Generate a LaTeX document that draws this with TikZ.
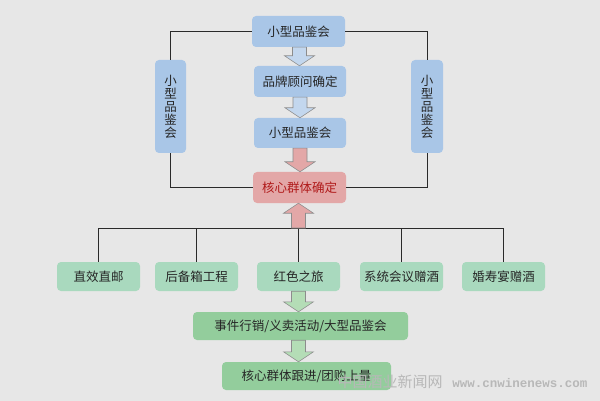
\documentclass[tikz,border=0pt]{standalone}
\usepackage{fontspec}
\setmainfont{Noto Sans CJK SC}
\newfontfamily\wmfont{Liberation Mono}
\usetikzlibrary{calc}
\definecolor{bg}{HTML}{E7E7E7}
\definecolor{bluebox}{HTML}{A9C6E7}
\definecolor{bluearr}{HTML}{C3D7EE}
\definecolor{redbox}{HTML}{E3A7A7}
\definecolor{redtext}{HTML}{B01A1A}
\definecolor{greenbox}{HTML}{A9D9BE}
\definecolor{greenbox2}{HTML}{93CD9C}
\definecolor{greenarr}{HTML}{B4DDB6}
\definecolor{arrline}{HTML}{8C8C8C}
\definecolor{frameline}{HTML}{2A2A2A}
\definecolor{wmcolor}{HTML}{B8B8B8}
\tikzset{
  box/.style={rounded corners=4pt, inner sep=0pt, font=\fontsize{12.5}{13}\selectfont, text=black!85},
  bluenode/.style={box, fill=bluebox},
  rednode/.style={box, fill=redbox, text=redtext},
  greennode/.style={box, fill=greenbox},
  greennode2/.style={box, fill=greenbox2},
  conn/.style={draw=frameline, line width=0.8pt},
  watermark/.style={inner sep=0pt, text=wmcolor},
  blockarrow/.style={draw=arrline, line width=0.6pt, to path={
    let \p1=(\tikztostart), \p2=(\tikztotarget),
        \n1={10pt*sign(\y1-\y2)} in
    (\x1-7pt,\y1) -- (\x1+7pt,\y1) -- (\x1+7pt,\y2+\n1) -- (\x1+15pt,\y2+\n1)
    -- (\x1,\y2) -- (\x1-15pt,\y2+\n1) -- (\x1-7pt,\y2+\n1) -- cycle}}
}
\begin{document}
\begin{tikzpicture}[x=1pt,y=-1pt]
\fill[bg] (0,0) rectangle (600,401);
\useasboundingbox (0,0) rectangle (600,401);

% central column
\node[bluenode, minimum width=93pt, minimum height=31pt] (top) at (298.5,31.5) {小型品鉴会};
\node[bluenode, minimum width=92pt, minimum height=31pt] (brand) at (300,81.5) {品牌顾问确定};
\node[bluenode, minimum width=92pt, minimum height=30pt] (small) at (300,133) {小型品鉴会};
\node[rednode, minimum width=93pt, minimum height=31pt] (core) at (299.5,187.5) {核心群体确定};

% side boxes
\node[bluenode, minimum width=31pt, minimum height=93pt, align=center] (left) at (170.5,106.5) {小\\型\\品\\鉴\\会};
\node[bluenode, minimum width=32pt, minimum height=93pt, align=center] (right) at (427,106.5) {小\\型\\品\\鉴\\会};

% frame
\draw[conn] (top.west) -| (left.north);
\draw[conn] (left.south) |- (core.west);
\draw[conn] (top.east) -| (right.north);
\draw[conn] (right.south) |- (core.east);

% arrows in central column
\path[blockarrow, fill=bluearr] ($(top.south)+(1,0)$) to (brand.north);
\path[blockarrow, fill=bluearr] (brand.south) to (small.north);
\path[blockarrow, fill=redbox] (small.south) to ($(core.north)+(0.5,0)$);

% green row
\node[greennode, minimum width=83pt, minimum height=29pt] (g1) at (98.5,276.5) {直效直邮};
\node[greennode, minimum width=83pt, minimum height=29pt] (g2) at (196.5,276.5) {后备箱工程};
\node[greennode, minimum width=83pt, minimum height=29pt] (g3) at (298.5,276.5) {红色之旅};
\node[greennode, minimum width=83pt, minimum height=29pt] (g4) at (401.5,276.5) {系统会议赠酒};
\node[greennode, minimum width=83pt, minimum height=29pt] (g5) at (503.5,276.5) {婚寿宴赠酒};

\coordinate (hub) at (298.5,228);
\draw[conn] (g1.north) -- (g1.north |- hub) -- (g5.north |- hub) -- (g5.north);
\draw[conn] (g2.north) -- (g2.north |- hub);
\draw[conn] (g3.north) -- (hub);
\draw[conn] (g4.north) -- (g4.north |- hub);

\path[blockarrow, fill=redbox] (hub) to ($(core.south)+(-1,0)$);

% lower boxes
\node[greennode2, minimum width=215pt, minimum height=28pt] (event) at (300.5,326) {事件行销/义卖活动/大型品鉴会};
\node[greennode2, minimum width=169pt, minimum height=28pt] (follow) at (306.5,376) {核心群体跟进/团购上量};

\path[blockarrow, fill=greenarr] (g3.south) to (g3.south |- event.north);
\path[blockarrow, fill=greenarr] (g3.south |- event.south) to (g3.south |- follow.north);

% watermark
\node[watermark, font=\fontsize{15}{15}\selectfont] (wm1) at (390,382) {中国酒业新闻网};
\node[watermark, font=\wmfont\bfseries\fontsize{12.5}{12.5}\selectfont] (wm2) at (520,383) {www.cnwinenews.com};
\end{tikzpicture}
\end{document}
